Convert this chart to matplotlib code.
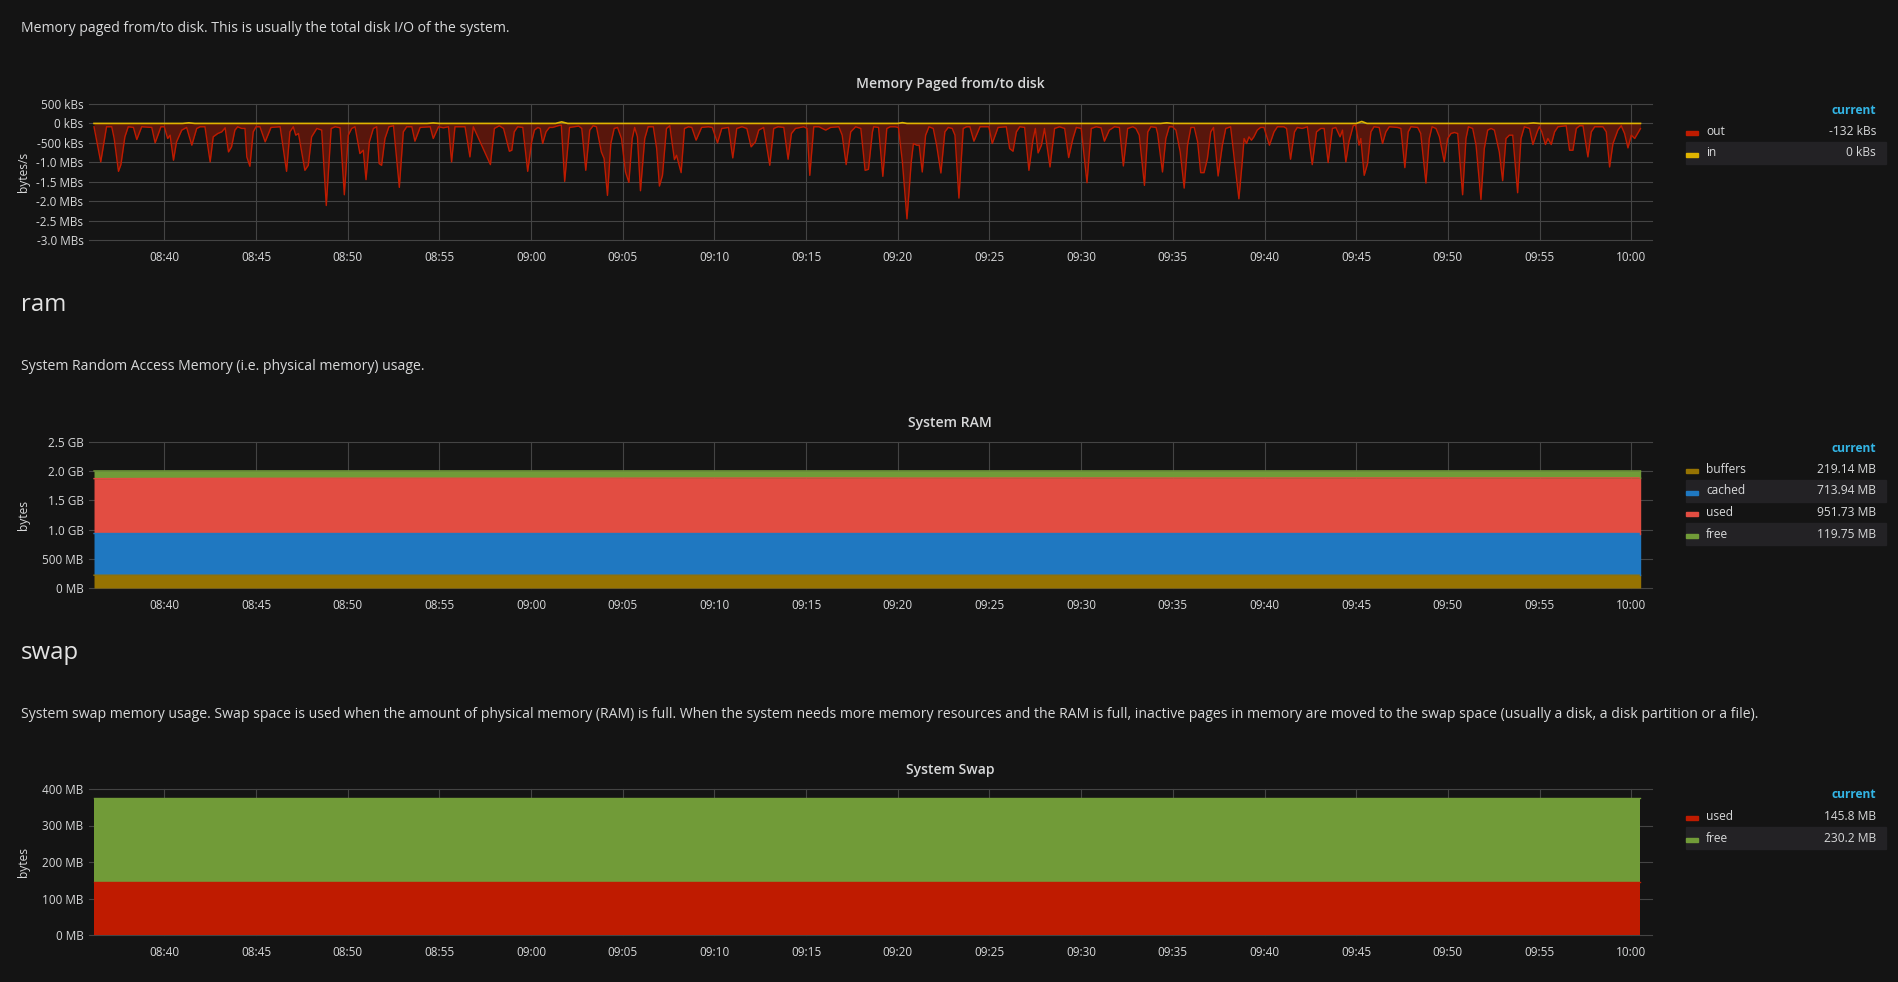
import matplotlib
matplotlib.use("Agg")
import matplotlib.pyplot as plt
from matplotlib.patches import Rectangle

plt.rcParams['font.family'] = ['Open Sans', 'DejaVu Sans']

# ---------------- data ----------------
# time in seconds after 08:36:00
out_t = [10, 32, 51, 68, 76, 90, 98, 111, 122, 139, 150, 166, 199, 210, 229, 240, 251, 259, 270, 280,
         297, 313, 330, 346, 357, 373, 390, 400, 415, 428, 439, 450, 460, 471, 480, 493, 504, 510, 520, 531,
         540, 553, 570, 589, 619, 640, 651, 662, 670, 679, 700, 711, 722, 739, 755, 770, 786, 799, 815, 829,
         842, 853, 864, 880, 891, 900, 911, 924, 935, 943, 951, 962, 975, 990, 1009, 1022, 1033, 1050, 1060, 1077,
         1110, 1120, 1137, 1153, 1170, 1180, 1191, 1224, 1240, 1251,
         1307, 1320, 1336, 1350, 1369, 1377, 1385, 1396, 1413, 1429, 1442, 1451, 1462, 1470, 1478, 1489, 1500, 1511,
         1528, 1539, 1550, 1566, 1582, 1596, 1606, 1619, 1632, 1643, 1654, 1670, 1679, 1690, 1701, 1712, 1723, 1736,
         1749, 1760, 1771, 1779, 1788, 1798, 1812, 1823, 1840, 1851, 1860, 1870, 1883, 1894, 1909, 1916, 1931, 1942,
         1955, 1966, 1980, 1998, 2020, 2033, 2050, 2064, 2086, 2100, 2113, 2130, 2146, 2160, 2174, 2185, 2201, 2221,
         2234, 2248, 2267, 2281, 2292, 2305, 2321, 2332, 2343, 2352, 2365, 2382, 2404, 2420, 2447, 2458, 2471, 2486,
         2502, 2519, 2533, 2544, 2557,
         2561, 2577, 2591, 2604, 2615, 2631, 2642, 2655, 2670, 2684, 2691, 2702, 2710, 2720, 2731, 2742, 2756, 2767,
         2781, 2794, 2805, 2818, 2827, 2840, 2854, 2865, 2876, 2889, 2909, 2925, 2938, 2949, 2968, 2995, 3006, 3017,
         3028, 3039, 3055, 3069, 3082, 3090, 3099, 3110, 3120, 3138, 3153, 3169, 3186, 3199, 3213, 3224, 3240, 3259,
         3273, 3289, 3305, 3316, 3332, 3349, 3365, 3378, 3392, 3409, 3419, 3430, 3447, 3458, 3468, 3485, 3490, 3506,
         3517, 3528, 3539, 3550, 3564, 3577, 3588, 3599, 3610, 3621, 3631, 3642, 3653, 3664, 3673, 3688, 3702, 3713,
         3729, 3742, 3756, 3767, 3773, 3781, 3789, 3797, 3805, 3816, 3827,
         3838, 3856, 3871, 3882, 3903, 3912, 3925, 3938, 3947, 3963, 3980, 3996, 4010, 4024, 4035, 4048, 4062, 4073,
         4087, 4095, 4106, 4116, 4130, 4138, 4149, 4155, 4166, 4177, 4188, 4198, 4215, 4226, 4237, 4248, 4275, 4286,
         4299, 4310, 4319, 4341, 4351, 4368, 4379, 4388, 4401, 4412, 4428, 4439, 4450, 4461, 4472, 4488, 4499, 4507,
         4521, 4532, 4548, 4559, 4570, 4581, 4592, 4608, 4619, 4630, 4641, 4652, 4668, 4679, 4690, 4707, 4718, 4732,
         4739, 4747, 4759, 4767, 4778, 4789, 4800, 4827, 4838, 4849, 4860, 4871, 4882, 4898, 4909, 4920, 4947, 4958,
         4969, 4980, 4996, 5007, 5018, 5029, 5040, 5051, 5070]
# kB/s (negative = out)
out_kb = [-86, -991, -86, -86, -388, -1233, -1060, -345, -86, -103, -414, -86, -103, -500, -86, -86, -388, -302, -948, -474,
          -172, -103, -560, -129, -86, -86, -991, -345, -259, -216, -112, -733, -603, -172, -86, -129, -129, -862, -1103, -216,
          -86, -86, -474, -103, -86, -1233, -216, -86, -302, -259, -1207, -1078, -345, -129, -172, -2112, -129, -86, -112, -1836,
          -302, -129, -86, -776, -690, -1448, -474, -129, -86, -1034, -1078, -388, -86, -60, -1646, -216, -86, -86, -457, -103,
          -86, -388, -86, -112, -86, -991, -86, -86, -862, -86,
          -1060, -129, -60, -129, -716, -690, -216, -86, -103, -1233, -474, -172, -103, -129, -517, -216, -103, -103,
          -60, -43, -1491, -103, -86, -69, -129, -1207, -172, -60, -86, -733, -905, -1853, -517, -129, -103, -388,
          -1250, -1517, -388, -103, -345, -1733, -388, -86, -86, -647, -1612, -1336, -129, -60, -931, -819, -1267, -129,
          -86, -103, -431, -103, -86, -103, -500, -129, -103, -888, -129, -86, -129, -603, -474, -172, -103, -1078,
          -129, -86, -103, -922, -259, -129, -103, -86, -129, -1336, -86, -86, -172, -103, -86, -302, -1060, -216,
          -86, -129, -1207, -1181, -216,
          -86, -103, -1362, -129, -86, -86, -103, -991, -2457, -991, -517, -560, -560, -1250, -302, -86, -129, -560,
          -1276, -216, -103, -129, -302, -1922, -129, -86, -86, -457, -86, -86, -86, -517, -103, -86, -647, -716,
          -216, -86, -103, -1207, -431, -129, -759, -560, -129, -1121, -129, -86, -129, -879, -388, -103, -129, -1526,
          -129, -86, -112, -457, -172, -86, -103, -1095, -129, -86, -129, -302, -1595, -216, -86, -103, -259, -1250,
          -388, -86, -86, -172, -733, -1664, -560, -103, -103, -474, -1267, -1267, -905, -216, -103, -1353, -560, -129,
          -86, -991, -1940, -991, -388, -517, -345, -431, -345, -172, -103,
          -103, -560, -216, -86, -86, -129, -922, -216, -103, -129, -86, -1060, -216, -129, -129, -1008, -129, -103,
          -345, -172, -991, -474, -60, -43, -560, -388, -1336, -1034, -216, -86, -103, -517, -216, -86, -103, -129,
          -1138, -216, -86, -103, -259, -1534, -388, -86, -129, -345, -991, -388, -259, -233, -259, -1836, -388, -86,
          -129, -560, -1957, -647, -172, -129, -172, -733, -1474, -388, -302, -302, -1784, -388, -86, -129, -543, -216,
          -86, -216, -543, -388, -543, -216, -86, -60, -690, -690, -129, -60, -60, -862, -216, -86, -86, -216,
          -1121, -517, -172, -60, -259, -630, -302, -388, -132]

in_t = [10, 300, 320, 340, 1000, 1100, 1120, 1140, 1520, 1540, 1560, 2640, 2655, 2670, 3500, 3520, 3540,
        4140, 4158, 4175, 4700, 4720, 4740, 5070]
in_kb = [0, 0, 15, 0, 0, 0, 12, 0, 0, 40, 0, 0, 20, 0, 0, 15, 0, 0, 50, 0, 0, 12, 0, 0]

ram_t = [10, 300, 600, 900, 1200, 1500, 1800, 2100, 2400, 2700, 3000, 3300, 3600, 3900, 4200, 4500, 4800, 5070]
ram_buffers = [219, 219, 219, 219, 219, 219, 219, 219, 219, 219, 219, 219, 219, 219, 219, 219, 219, 219.14]
ram_cached = [714, 714, 714, 714, 714, 714, 714, 714, 714, 714, 714, 714, 714, 714, 714, 714, 714, 713.94]
ram_used = [940, 944, 946, 948, 947, 945, 949, 950, 951, 949, 950, 951, 950, 951, 952, 951, 952, 951.73]
ram_free = [132, 128, 126, 124, 125, 127, 123, 122, 121, 123, 122, 121, 122, 121, 120, 121, 120, 119.75]

swap_t = [10, 5070]
swap_used = [145.8, 145.8]
swap_free = [230.2, 230.2]

xtick_sec = [240, 540, 840, 1140, 1440, 1740, 2040, 2340, 2640, 2940, 3240, 3540, 3840, 4140, 4440, 4740, 5040]
xtick_lab = ['08:40', '08:45', '08:50', '08:55', '09:00', '09:05', '09:10', '09:15', '09:20', '09:25',
             '09:30', '09:35', '09:40', '09:45', '09:50', '09:55', '10:00']

page_yt = [500, 0, -500, -1000, -1500, -2000, -2500, -3000]
page_yl = ['500 kBs', '0 kBs', '-500 kBs', '-1.0 MBs', '-1.5 MBs', '-2.0 MBs', '-2.5 MBs', '-3.0 MBs']
ram_yt = [0, 500, 1000, 1500, 2000, 2500]
ram_yl = ['0 MB', '500 MB', '1.0 GB', '1.5 GB', '2.0 GB', '2.5 GB']
swap_yt = [0, 100, 200, 300, 400]
swap_yl = ['0 MB', '100 MB', '200 MB', '300 MB', '400 MB']

# ---------------- style ----------------
W, H = 1899, 982
BG = '#141414'
GRID = '#444444'
TXT = '#d8d9da'
C_OUT = '#bf1b00'
C_IN = '#e0b400'
C_BUF = '#967302'
C_CACHE = '#1f78c1'
C_USED = '#e24d42'
C_FREE = '#719b38'
C_SUSED = '#bf1b00'
C_SFREE = '#719b38'
ROWBG = '#232225'
BLUE = '#33b5e5'

def px(v):
    return v * 72.0 / 100.0

fig = plt.figure(figsize=(W / 100, H / 100), dpi=100, facecolor=BG)

def rect(l, t, r, b):
    return [l / W, 1 - b / H, (r - l) / W, (b - t) / H]

def ftext(x, y, s, **kw):
    fig.text(x / W, 1 - y / H, s, **kw)

def style_axes(ax, yt, yl, ylim, ylabel):
    ax.set_facecolor(BG)
    for sp in ax.spines.values():
        sp.set_visible(False)
    ax.set_xlim(-6.4, 5107.7)
    ax.set_ylim(*ylim)
    ax.set_xticks(xtick_sec)
    ax.set_xticklabels(xtick_lab)
    ax.set_yticks(yt)
    ax.set_yticklabels(yl)
    ax.tick_params(length=0, colors=TXT, labelsize=px(11.8), pad=4)
    ax.tick_params(axis='x', pad=8)
    ax.grid(True, color=GRID, lw=0.8)
    ax.set_axisbelow(True)
    for ln in ax.get_xgridlines() + ax.get_ygridlines():
        ln.set_clip_on(False)
    ax.set_ylabel(ylabel, color=TXT, fontsize=px(12), labelpad=6)
    ax.yaxis.set_label_coords(-(89 - 30) / (1652 - 89), 0.5)

# ---------- texts ----------
DESC = px(14)
TITLE = px(14)
ftext(21, 29, 'Memory paged from/to disk. This is usually the total disk I/O of the system.',
      color=TXT, fontsize=DESC, va='center', ha='left')
ftext(950, 84, 'Memory Paged from/to disk', color=TXT, fontsize=TITLE, va='center', ha='center',
      fontweight='semibold')
ftext(21, 305, 'ram', color='#e3e3e3', fontsize=px(24), va='center', ha='left')
ftext(21, 367, 'System Random Access Memory (i.e. physical memory) usage.', color=TXT,
      fontsize=DESC, va='center', ha='left')
ftext(950, 423, 'System RAM', color=TXT, fontsize=TITLE, va='center', ha='center', fontweight='semibold')
ftext(21, 653, 'swap', color='#e3e3e3', fontsize=px(24), va='center', ha='left')
ftext(21, 714, 'System swap memory usage. Swap space is used when the amount of physical memory (RAM) is full. '
      'When the system needs more memory resources and the RAM is full, inactive pages in memory are moved to '
      'the swap space (usually a disk, a disk partition or a file).', color=TXT,
      fontsize=DESC, va='center', ha='left')
ftext(950, 770, 'System Swap', color=TXT, fontsize=TITLE, va='center', ha='center', fontweight='semibold')

# ---------- paging chart ----------
ax1 = fig.add_axes(rect(89, 104, 1652, 240))
style_axes(ax1, page_yt, page_yl, (-3000, 500), 'bytes/s')
ax1.fill_between(out_t, out_kb, 0, color=C_OUT, alpha=0.4, lw=0)
ax1.plot(out_t, out_kb, color=C_OUT, lw=1.0)
ax1.fill_between(in_t, in_kb, 0, color=C_IN, alpha=0.3, lw=0)
ax1.plot(in_t, in_kb, color=C_IN, lw=1.2)

# ---------- RAM chart ----------
ax2 = fig.add_axes(rect(89, 442, 1652, 588))
style_axes(ax2, ram_yt, ram_yl, (0, 2500), 'bytes')
s0 = [0] * len(ram_t)
s1 = [a for a in ram_buffers]
s2 = [a + b for a, b in zip(s1, ram_cached)]
s3 = [a + b for a, b in zip(s2, ram_used)]
s4 = [a + b for a, b in zip(s3, ram_free)]
for lo, hi, c in [(s0, s1, C_BUF), (s1, s2, C_CACHE), (s2, s3, C_USED), (s3, s4, C_FREE)]:
    ax2.fill_between(ram_t, lo, hi, color=c, lw=0)
    ax2.plot(ram_t, hi, color=c, lw=1.0)
    ax2.plot([ram_t[-1], ram_t[-1]], [lo[-1], hi[-1]], color=c, lw=1.0)

# ---------- Swap chart ----------
ax3 = fig.add_axes(rect(89, 789, 1652, 935))
style_axes(ax3, swap_yt, swap_yl, (0, 400), 'bytes')
w0 = [0] * len(swap_t)
w1 = list(swap_used)
w2 = [a + b for a, b in zip(w1, swap_free)]
for lo, hi, c in [(w0, w1, C_SUSED), (w1, w2, C_SFREE)]:
    ax3.fill_between(swap_t, lo, hi, color=c, lw=0)
    ax3.plot(swap_t, hi, color=c, lw=1.0)

# ---------- legends ----------
def legend(top_y, names, values, colors):
    ftext(1876, top_y, 'current', color=BLUE, fontsize=px(12), fontweight='bold', ha='right', va='center')
    for i, (n, v, c) in enumerate(zip(names, values, colors)):
        y = top_y + 21.5 * (i + 1)
        if i % 2 == 1:
            fig.patches.append(Rectangle((1686 / W, 1 - (y + 11) / H), 200 / W, 22 / H,
                                         transform=fig.transFigure, color=ROWBG, zorder=0))
        fig.patches.append(Rectangle((1686 / W, 1 - (y + 3.5) / H), 12 / W, 4 / H,
                                     transform=fig.transFigure, color=c, zorder=1))
        ftext(1706, y, n, color=TXT, fontsize=px(12), ha='left', va='center')
        ftext(1876, y, v, color=TXT, fontsize=px(12), ha='right', va='center')

legend(110, ['out', 'in'], ['-132 kBs', '0 kBs'], [C_OUT, C_IN])
legend(448, ['buffers', 'cached', 'used', 'free'], ['219.14 MB', '713.94 MB', '951.73 MB', '119.75 MB'],
       [C_BUF, C_CACHE, C_USED, C_FREE])
legend(795, ['used', 'free'], ['145.8 MB', '230.2 MB'], [C_SUSED, C_SFREE])

fig.savefig('out.png', dpi=100, facecolor=BG)
